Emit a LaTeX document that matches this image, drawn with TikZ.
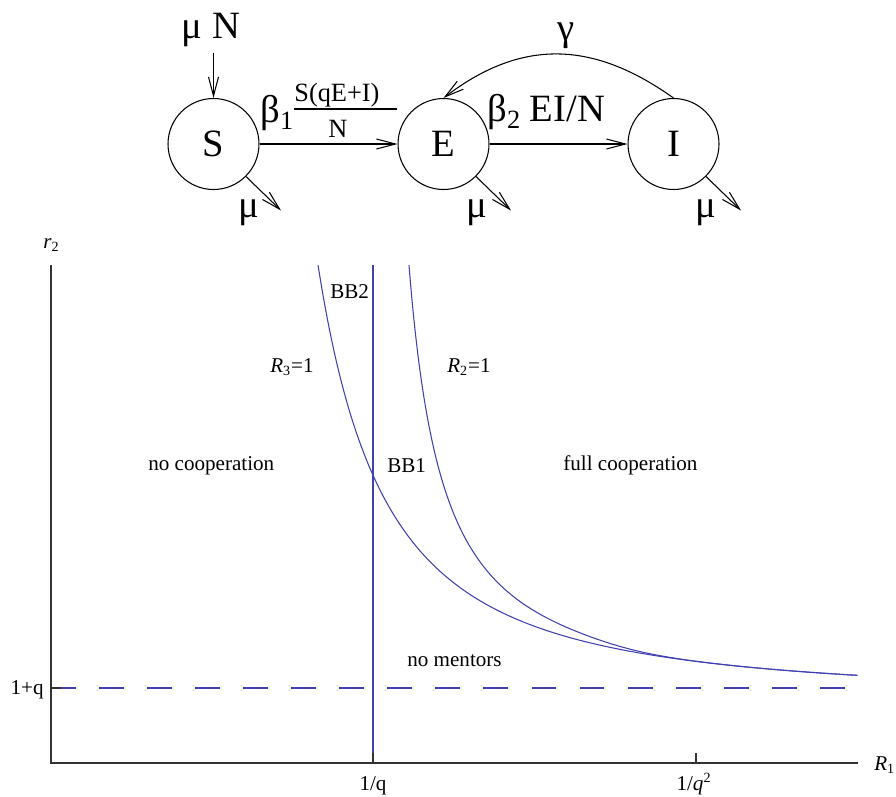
\documentclass[tikz,border=0pt]{standalone}
\usepackage{fontspec}
\setmainfont{Liberation Serif}
\usetikzlibrary{arrows.meta,positioning}
\definecolor{curveblue}{RGB}{64,64,176}

\begin{document}
\begin{tikzpicture}[
  x=0.02cm, y=-0.02cm,
  node distance=2.76cm,
  compartment/.style={circle, draw, line width=0.6pt, minimum size=1.82cm, inner sep=0pt, font=\fontsize{22}{26}\selectfont},
  rate/.style={inner sep=0pt, font=\fontsize{22}{26}\selectfont},
  fracpart/.style={inner sep=0pt, font=\fontsize{15}{18}\selectfont},
  flow/.style={-{Straight Barb[length=3.8mm,width=2mm]}, line width=0.6pt},
  region/.style={inner sep=0pt, font=\fontsize{12}{14}\selectfont},
  axis/.style={black!80, line width=0.7pt},
  curve/.style={curveblue, line width=0.6pt},
  declare function={
    rthree(\t)=1.3+4.843/exp(1.69*ln(\t-0.95));
    rtwofit(\t)=1.3+1.778/exp(1.09*ln(\t-1.99));
    rtwo(\t)=rthree(\t)+(rtwofit(\t)-rthree(\t))/(1+exp(min((\t-3.5)/0.15,8)));
  }
]
\useasboundingbox (0,0) rectangle (896,796);

% compartment model
\node[compartment] (S) at (213.5,144) {S};
\node[compartment, right=of S] (E) {E};
\node[compartment, right=of E] (I) {I};

\node[rate, anchor=base] (birth) at (211,38) {μ N};
\node[rate, anchor=base west] (beta1) at (260,122) {β\raisebox{-4pt}{\fontsize{15}{18}\selectfont 1}};
\node[fracpart, anchor=base west] (num) at (294,101) {S(qE+I)};
\node[fracpart, anchor=base] (den) at (338,137) {N};
\coordinate (barL) at (294,109);
\node[rate, anchor=base west] (beta2) at (487,121) {β\raisebox{-4pt}{\fontsize{15}{18}\selectfont 2} EI/N};
\node[rate, anchor=base] (gam) at (566,40) {γ};

\draw[line width=0.6pt] (barL) -- (barL -| E.west);
\draw[flow, shorten <=1.2mm] (birth.south -| S.north) -- (S.north);
\draw[flow] (S) -- (E);
\draw[flow] (E) -- (I);
\draw[flow] (I.north) .. controls (592,40) and (521,39) .. (E.north);

\draw[flow] (S.-45) -- ++(35,34) coordinate (Sgone);
\draw[flow] (E.-45) -- ++(35,34) coordinate (Egone);
\draw[flow] (I.-45) -- ++(35,34) coordinate (Igone);
\node[rate, anchor=base] (muS) at (249,217) {μ};
\node[rate, anchor=base] (muE) at (477,217) {μ};
\node[rate, anchor=base] (muI) at (706,217) {μ};

% phase diagram
\coordinate (O) at (51,763);
\coordinate (ytop) at (51,265);
\coordinate (xend) at (858,763);
\coordinate (invq) at (373,763);
\coordinate (invqq) at (696,763);
\coordinate (oneq) at (51,688);

\draw[curve] (invq) -- (invq |- ytop);
\draw[curve, dash pattern=on 14.17pt off 13.18pt] (oneq) -- (oneq -| xend);
\begin{scope}[shift={(O)}, x=3.22cm, y=1cm]
  \draw[curve] plot[domain=1.659:5.012, samples=300] (\x, {rthree(\x)});
  \draw[curve] plot[domain=2.224:5.012, samples=300] (\x, {rtwo(\x)});
\end{scope}

\draw[axis] (ytop) -- (O) -- (xend);
\draw[axis] (invq) -- ++(0,-10);
\draw[axis] (invqq) -- ++(0,-10);
\draw[axis] (oneq) -- ++(10,0);

\node[region, anchor=base west] (r2lab) at (43,248) {\textit{r}\textsubscript{2}};
\node[region, anchor=base west] (R1lab) at (874,770) {\textit{R}\textsubscript{1}};
\node[region, anchor=base east] (oneqlab) at (44,694) {1+q};
\node[region, anchor=base] (invqlab) at (373,790) {1/q};
\node[region, anchor=base] (invqqlab) at (694,790) {1/\textit{q}\textsuperscript{2}};

\node[region, anchor=base west] (bb2) at (330,298) {BB2};
\node[region, anchor=base west] (r3lab) at (270,372) {\textit{R}\textsubscript{3}=1};
\node[region, anchor=base west] (r2eq) at (447,372) {\textit{R}\textsubscript{2}=1};
\node[region, anchor=base west] (nocoop) at (148,470) {no cooperation};
\node[region, anchor=base west] (bb1) at (387,472) {BB1};
\node[region, anchor=base west] (fullcoop) at (563,470) {full cooperation};
\node[region, anchor=base west] (nomentor) at (407,666) {no mentors};
\end{tikzpicture}
\end{document}
